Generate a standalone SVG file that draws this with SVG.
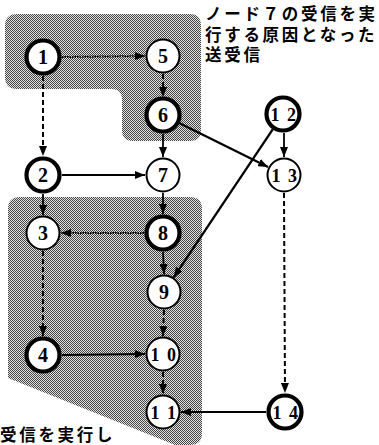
<svg xmlns="http://www.w3.org/2000/svg" width="379" height="445" viewBox="0 0 379 445">
  <defs>
    <!-- halftone screen used for the highlighted areas -->
    <pattern id="screen" width="2" height="2" patternUnits="userSpaceOnUse">
      <rect width="2" height="2" fill="#e2e2e2"/>
      <rect x="0" y="0" width="1" height="1" fill="#444"/>
      <rect x="1" y="1" width="1" height="1" fill="#444"/>
    </pattern>
    <marker id="arr" viewBox="0 0 10 8" refX="10" refY="4" markerWidth="10" markerHeight="8" markerUnits="userSpaceOnUse" orient="auto">
      <path d="M0,0 L10,4 L0,8 Z" fill="#000"/>
    </marker>
  </defs>
  <style>
    .area { fill: url(#screen); }
    .node circle { fill: #fff; stroke: #000; stroke-width: 2; }
    .node.bold circle { stroke-width: 4.2; }
    .node text { font-family: "Liberation Serif", "DejaVu Serif", serif; font-size: 20px; font-weight: bold; text-anchor: middle; fill: #000; }
    .node text.two { font-size: 18px; letter-spacing: 1.5px; }
    .edge { stroke: #000; stroke-width: 1.8; fill: none; marker-end: url(#arr); }
    .thick { stroke-width: 2.3; }
    .dash { stroke-width: 2; stroke-dasharray: 5 3; }
    .dot { stroke-width: 2; stroke-dasharray: 1.5 1; }
    .note { font-family: "Liberation Sans", "Noto Sans CJK JP", "Noto Sans CJK SC", sans-serif; font-size: 16.5px; font-weight: bold; fill: #000; letter-spacing: 2.7px; }
  </style>

  <!-- shaded regions -->
  <g id="areas">
    <path class="area" d="M17,14 H190 Q201,14 201,26 V130 Q201,141 190,141 H133 Q122,141 122,130 V100 Q122,89 111,89 H17 Q5,89 5,77 V26 Q5,14 17,14 Z"/>
    <path class="area" d="M20,197 H190 Q202,197 202,209 V433 Q202,445 190,445 H175 L8,378 V209 Q8,197 20,197 Z"/>
  </g>

  <!-- connectors -->
  <g id="connectors">
    <line class="edge dot" x1="62" y1="57" x2="145" y2="56"/>
    <line class="edge dash" x1="43" y1="76" x2="43" y2="156"/>
    <line class="edge dash" x1="163" y1="74" x2="163" y2="97"/>
    <line class="edge" x1="163" y1="134" x2="163" y2="157"/>
    <line class="edge thick" x1="179.6" y1="123.2" x2="268" y2="167"/>
    <line class="edge thick" x1="272.7" y1="129.4" x2="173.7" y2="277.4"/>
    <line class="edge" x1="284" y1="133" x2="284" y2="157"/>
    <line class="edge" x1="62" y1="175" x2="145" y2="175"/>
    <line class="edge" x1="43" y1="194" x2="43" y2="215"/>
    <line class="edge" x1="163" y1="193" x2="163" y2="214"/>
    <line class="edge dot" x1="144" y1="233" x2="61" y2="233"/>
    <line class="edge" x1="163" y1="252" x2="164" y2="274"/>
    <line class="edge dash" x1="43" y1="251" x2="43" y2="336"/>
    <line class="edge dash" x1="164" y1="310" x2="163" y2="336"/>
    <line class="edge" x1="62" y1="355" x2="145" y2="354"/>
    <line class="edge dash" x1="163" y1="372" x2="163" y2="394"/>
    <line class="edge dash" x1="284" y1="193" x2="285" y2="393"/>
    <line class="edge" x1="266" y1="412" x2="181" y2="412"/>
  </g>

  <!-- nodes -->
  <g id="n1" class="node bold"><circle cx="43" cy="57" r="16.5"/><text x="43" y="64">1</text></g>
  <g id="n5" class="node"><circle cx="163" cy="56" r="16.5"/><text x="163" y="63">5</text></g>
  <g id="n6" class="node bold"><circle cx="163" cy="115" r="16.5"/><text x="163" y="122">6</text></g>
  <g id="n12" class="node bold"><circle cx="283" cy="114" r="16.5"/><text class="two" x="284" y="120.5">1 2</text></g>
  <g id="n2" class="node bold"><circle cx="43" cy="175" r="16.5"/><text x="43" y="182">2</text></g>
  <g id="n7" class="node"><circle cx="163" cy="175" r="16.5"/><text x="163" y="182">7</text></g>
  <g id="n13" class="node"><circle cx="284" cy="175" r="16.5"/><text class="two" x="285" y="181.5">1 3</text></g>
  <g id="n3" class="node"><circle cx="43" cy="233" r="16.5"/><text x="43" y="240">3</text></g>
  <g id="n8" class="node bold"><circle cx="163" cy="233" r="16.5"/><text x="163" y="240">8</text></g>
  <g id="n9" class="node"><circle cx="164" cy="292" r="16.5"/><text x="164" y="299">9</text></g>
  <g id="n4" class="node bold"><circle cx="43" cy="355" r="16.5"/><text x="43" y="362">4</text></g>
  <g id="n10" class="node"><circle cx="163" cy="354" r="16.5"/><text class="two" x="164" y="360.5">1 0</text></g>
  <g id="n11" class="node"><circle cx="163" cy="412" r="16.5"/><text class="two" x="164" y="418.5">1 1</text></g>
  <g id="n14" class="node bold"><circle cx="285" cy="412" r="16.5"/><text class="two" x="286" y="418.5">1 4</text></g>

  <!-- captions -->
  <g id="captions">
    <text class="note" x="205" y="20">ノード７の受信を実<tspan x="205" dy="20.5">行する原因となった</tspan><tspan x="205" dy="20.5">送受信</tspan></text>
    <text class="note" x="0" y="441" letter-spacing="2">受信を実行し</text>
  </g>
</svg>
